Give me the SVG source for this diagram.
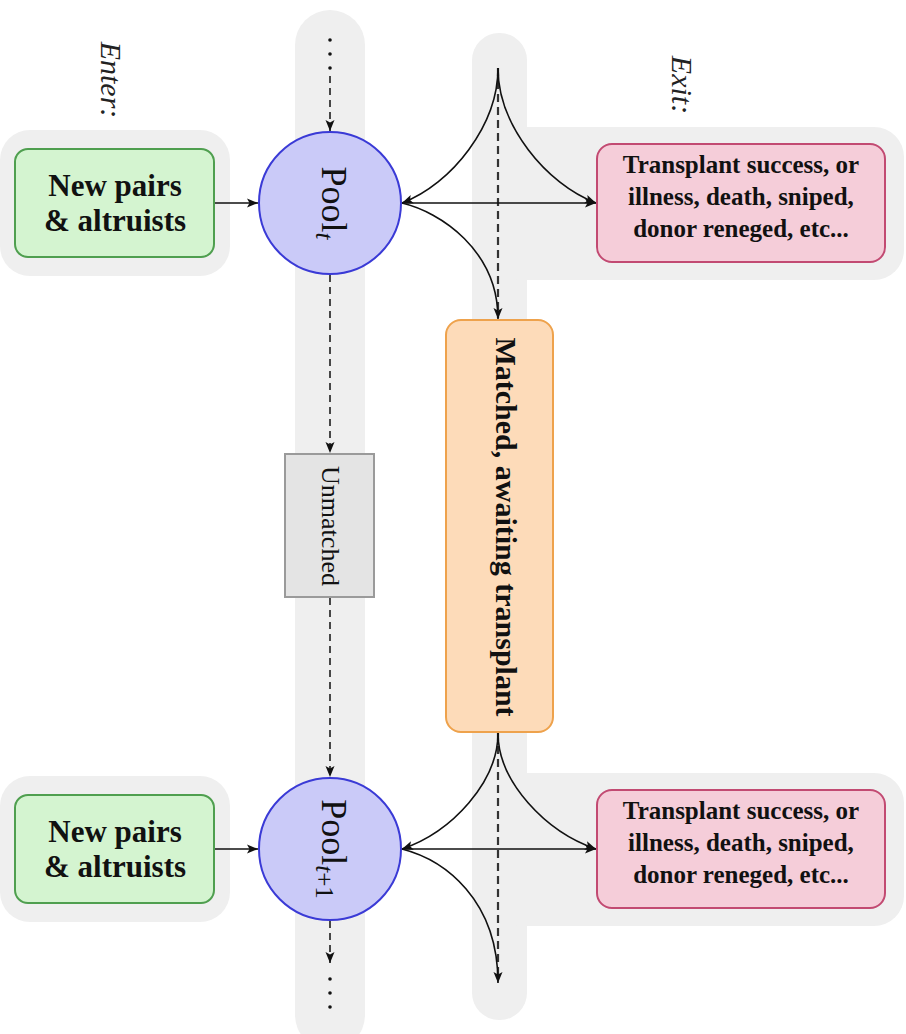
<svg xmlns="http://www.w3.org/2000/svg" width="906" height="1034" viewBox="0 0 906 1034">
<defs>
<marker id="arr" markerUnits="userSpaceOnUse" markerWidth="12" markerHeight="10" refX="11" refY="5" orient="auto">
<path d="M0,0.5 L11,5 L0,9.5 L2.5,5 z" fill="#111"/>
</marker>
</defs>
<style>
.bg{fill:#efefef;stroke:none}
.green{fill:#d4f4d0;stroke:#4f9f4f;stroke-width:2}
.pool{fill:#cacaf8;stroke:#3a3ad6;stroke-width:2}
.pink{fill:#f5cdd9;stroke:#c24a72;stroke-width:2}
.orange{fill:#fddbb9;stroke:#eea24c;stroke-width:2}
.gray{fill:#e4e4e4;stroke:#9a9a9a;stroke-width:2}
.bold{font-family:"Liberation Serif",serif;font-weight:bold;fill:#111}
.reg{font-family:"Liberation Serif",serif;fill:#111}
.it{font-family:"Liberation Serif",serif;font-style:italic;fill:#222}
.ln{fill:none;stroke:#111;stroke-width:1.6}
.dash{fill:none;stroke:#111;stroke-width:1.5;stroke-dasharray:7 5}
.mdash{fill:none;stroke:#333;stroke-width:2.2;stroke-dasharray:8 5}
</style>

<g id="backgrounds">
<rect class="bg" x="295" y="10" width="70" height="1040" rx="35"/>
<rect class="bg" x="472" y="33" width="55" height="987" rx="27"/>
<rect class="bg" x="0" y="130" width="230" height="146" rx="30"/>
<rect class="bg" x="0" y="776" width="230" height="146" rx="30"/>
<rect class="bg" x="490" y="127" width="414" height="153" rx="30"/>
<rect class="bg" x="490" y="773" width="414" height="153" rx="30"/>
</g>

<g id="label-enter">
<text class="it" font-size="30" text-anchor="middle" transform="translate(110,80) rotate(90)" y="9">Enter:</text>
</g>
<g id="label-exit">
<text class="it" font-size="30" text-anchor="middle" transform="translate(683,85) rotate(90)" y="11">Exit:</text>
</g>

<g id="connectors">
<circle cx="330" cy="40" r="1.8" fill="#111"/>
<circle cx="330" cy="54" r="1.8" fill="#111"/>
<circle cx="330" cy="68" r="1.8" fill="#111"/>
<line class="dash" x1="330" y1="76" x2="330" y2="131" marker-end="url(#arr)"/>
<line class="dash" x1="330" y1="275" x2="330" y2="453" marker-end="url(#arr)"/>
<line class="dash" x1="330" y1="598" x2="330" y2="777" marker-end="url(#arr)"/>
<line class="dash" x1="330" y1="921" x2="330" y2="963" marker-end="url(#arr)"/>
<circle cx="330" cy="979" r="1.8" fill="#111"/>
<circle cx="330" cy="993" r="1.8" fill="#111"/>
<circle cx="330" cy="1007" r="1.8" fill="#111"/>

<line class="mdash" x1="498" y1="68" x2="498" y2="318"/>
<line class="mdash" x1="498" y1="733" x2="498" y2="978"/>

<line class="ln" x1="214" y1="203" x2="258" y2="203" marker-end="url(#arr)"/>
<line class="ln" x1="214" y1="849" x2="258" y2="849" marker-end="url(#arr)"/>

<line class="ln" x1="402" y1="203" x2="596" y2="203" marker-end="url(#arr)"/>
<path class="ln" d="M498,68 C498,125 452,184 402,203" marker-end="url(#arr)"/>
<path class="ln" d="M498,68 C498,125 546,184 596,203" marker-end="url(#arr)"/>
<path class="ln" d="M402,203 C440,212 498,250 498,319" marker-end="url(#arr)"/>

<line class="ln" x1="402" y1="849" x2="596" y2="849" marker-end="url(#arr)"/>
<path class="ln" d="M498,733 C498,782 452,832 402,849" marker-end="url(#arr)"/>
<path class="ln" d="M498,733 C498,782 546,832 596,849" marker-end="url(#arr)"/>
<path class="ln" d="M402,849 C445,860 498,900 498,983" marker-end="url(#arr)"/>
</g>

<g id="new-pairs-1">
<rect class="green" x="15" y="149" width="199" height="108" rx="13"/>
<text class="bold" font-size="31" text-anchor="middle" x="115" y="196">New pairs</text>
<text class="bold" font-size="31" text-anchor="middle" x="115" y="231">&amp; altruists</text>
</g>
<g id="new-pairs-2">
<rect class="green" x="15" y="795" width="199" height="108" rx="13"/>
<text class="bold" font-size="31" text-anchor="middle" x="115" y="842">New pairs</text>
<text class="bold" font-size="31" text-anchor="middle" x="115" y="877">&amp; altruists</text>
</g>

<g id="pool-t">
<circle class="pool" cx="330" cy="203" r="71"/>
<text class="reg" font-size="36" text-anchor="middle" transform="translate(330,203) rotate(90)" y="8">Pool<tspan font-size="25" font-style="italic" dy="6">t</tspan></text>
</g>
<g id="pool-t1">
<circle class="pool" cx="330" cy="849" r="71"/>
<text class="reg" font-size="36" text-anchor="middle" transform="translate(330,849) rotate(90)" y="8">Pool<tspan font-size="25" dy="6"><tspan font-style="italic">t</tspan>+1</tspan></text>
</g>

<g id="unmatched">
<rect class="gray" x="285" y="454" width="89" height="143"/>
<text class="reg" font-size="26" text-anchor="middle" transform="translate(329.5,526) rotate(90)" y="8">Unmatched</text>
</g>

<g id="matched">
<rect class="orange" x="446" y="320" width="107" height="412" rx="15"/>
<text class="bold" font-size="30" text-anchor="middle" transform="translate(499.5,527) rotate(90)" y="4">Matched, awaiting transplant</text>
</g>

<g id="exit-1">
<rect class="pink" x="597" y="144" width="288" height="118" rx="15"/>
<text class="bold" font-size="25" text-anchor="middle" x="741" y="173">Transplant success, or</text>
<text class="bold" font-size="25" text-anchor="middle" x="741" y="205">illness, death, sniped,</text>
<text class="bold" font-size="25" text-anchor="middle" x="741" y="237">donor reneged, etc...</text>
</g>
<g id="exit-2">
<rect class="pink" x="597" y="790" width="288" height="118" rx="15"/>
<text class="bold" font-size="25" text-anchor="middle" x="741" y="819">Transplant success, or</text>
<text class="bold" font-size="25" text-anchor="middle" x="741" y="851">illness, death, sniped,</text>
<text class="bold" font-size="25" text-anchor="middle" x="741" y="883">donor reneged, etc...</text>
</g>
</svg>
